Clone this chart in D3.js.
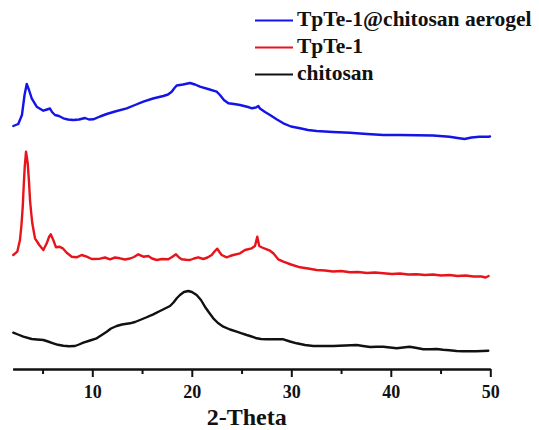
<!DOCTYPE html>
<html>
<head>
<meta charset="utf-8">
<script src="https://cdn.jsdelivr.net/npm/d3@7"></script>
<style>
  html, body { margin: 0; padding: 0; background: #fff; }
  svg { display: block; }
  text { font-family: "Liberation Serif", "Times New Roman", serif; font-weight: bold; fill: #111; }
</style>
</head>
<body>
<svg id="chart" width="539" height="430"></svg>
<script>
// XRD patterns: [2-theta (deg), intensity (a.u., curves stacked with offsets)]
const aerogelPattern = [
  [2.06,243],[2.56,245],[2.93,254],[3.19,274],[3.41,285],[3.64,279],[3.91,270.7],[4.41,262.3],
  [5.08,258.3],[5.45,259.5],[5.75,260.5],[5.95,257],[6.25,254],[6.65,253],[7.09,250.7],[7.56,249.5],
  [8.09,249],[8.66,249.5],[9.27,251],[9.67,249.5],[10.10,249.7],[10.77,252.5],[11.45,255],[12.28,257.5],
  [13.46,260.7],[14.29,264],[15.13,267.3],[16.10,270.5],[17.14,273],[17.61,274.5],[17.98,277.3],[18.26,281],
  [18.48,283.5],[19.12,284.5],[19.82,286],[20.32,284.5],[20.82,282.3],[21.63,280],[22.50,277.3],[22.83,274],
  [23.23,269],[23.67,265.7],[24.24,265],[24.85,264],[25.65,262],[26.05,260.7],[26.45,261.5],[26.68,263],
  [26.85,260.5],[27.36,257],[27.86,254],[28.56,249.5],[29.20,245.7],[29.97,242.5],[30.87,240.7],[31.68,239],
  [32.55,238],[34.19,237],[35.90,236.3],[37.61,235],[39.25,234],[40.93,234],[42.60,233.7],[44.24,233.5],
  [45.90,232.3],[46.71,231],[47.41,230],[48.11,231.5],[48.92,232.3],[49.80,232.3],[49.97,232.5]
];

const tpte1Pattern = [
  [2.06,114],[2.46,117.3],[2.73,129],[2.88,144],[3.01,162.3],[3.11,184],[3.21,202.3],[3.34,217.3],
  [3.51,205.7],[3.64,187],[3.74,169],[3.86,156],[3.97,145.7],[4.24,130.7],[4.67,124],[5.08,119],
  [5.42,125.7],[5.65,132],[5.82,134.7],[6.08,129],[6.35,121.7],[6.68,122.3],[7.03,120.7],[7.43,116.3],
  [7.93,112.3],[8.43,111.7],[8.93,114],[9.44,112.3],[9.94,110],[10.77,110.3],[11.28,111.5],[11.78,109.7],
  [12.28,111.5],[12.78,110.7],[13.28,109.5],[13.79,110.5],[14.19,112],[14.62,114.7],[15.13,112.3],[15.63,113],
  [16.00,110.5],[16.47,109],[17.01,110],[17.64,109.7],[18.01,112],[18.41,114.7],[18.72,111.5],[18.98,109.7],
  [19.42,109.2],[19.82,109],[20.22,110.5],[20.65,111.7],[21.16,110],[21.58,111.5],[22.00,114],[22.28,117.5],
  [22.56,120.3],[22.78,117],[23.00,114],[23.51,111.7],[23.84,113],[24.17,114],[24.85,115.7],[25.35,119],
  [26.02,120.7],[26.35,123],[26.58,132.3],[26.78,123],[27.06,121.5],[27.53,119.7],[27.86,118.3],[28.19,115.7],
  [28.69,109.7],[29.20,107.3],[29.97,104.5],[30.87,101.7],[31.68,100.5],[32.55,99],[33.39,98.5],[34.19,97.5],
  [35.00,98],[35.90,96.7],[36.70,97],[37.61,96],[38.41,96.5],[39.25,95.7],[40.12,95],[40.93,95.5],
  [41.73,94.5],[42.60,94.7],[43.44,94],[44.24,94.5],[45.05,93.5],[45.90,94],[46.71,93],[47.51,93.5],
  [48.32,92.5],[49.12,92.5],[49.53,91.5],[49.83,93]
];

const chitosanPattern = [
  [2.06,36.3],[2.53,34.5],[3.07,32.3],[3.91,30],[4.44,29.5],[5.08,29],[5.55,27.5],[6.08,25.7],
  [6.55,24.2],[7.09,23.3],[7.66,22.8],[8.26,23],[8.66,24.5],[9.10,26.3],[9.77,28.5],[10.44,30.7],
  [10.87,33.5],[11.45,37.3],[11.88,40.5],[12.45,43],[12.98,44.5],[13.79,45.7],[14.29,47],[14.79,49],
  [15.40,51.5],[16.13,54.7],[16.80,58],[17.41,61],[17.81,63],[18.16,66.5],[18.51,71],[18.81,74],
  [19.21,77],[19.65,78],[20.01,77],[20.49,74],[20.92,69],[21.32,62.3],[21.73,56.5],[22.16,50.7],
  [22.63,46],[23.17,42.3],[23.84,39.5],[24.51,37.3],[25.02,35.7],[25.52,34],[25.85,33],[26.52,30.7],
  [26.95,30],[27.53,29.7],[28.36,29.7],[29.20,29.7],[29.87,27.5],[30.54,25.7],[31.38,24],[32.21,23],
  [33.19,23],[34.22,23],[35.40,23.5],[36.57,24],[37.20,23],[37.91,22],[38.61,22.2],[39.25,22.3],
  [39.92,21.5],[40.59,20.7],[41.23,21.5],[41.88,22.3],[42.49,21.2],[43.27,19.7],[43.94,19.8],[44.61,20],
  [45.25,19.2],[45.90,18.7],[46.61,18],[47.24,17.7],[47.91,17.7],[48.58,17.7],[49.21,18],[49.80,18.3]
];

const seriesNames  = ["TpTe-1@chitosan aerogel", "TpTe-1", "chitosan"];
const seriesColors = ["#1414e6", "#e8141b", "#111111"];
const majorTicks = [10, 20, 30, 40, 50];
const minorTicks = [5, 15, 25, 35, 45];
const xTitle = "2-Theta";

const svg = d3.select("#chart");

const x = d3.scaleLinear().domain([2, 50]).range([12.7, 490.3]);
const y = d3.scaleLinear().domain([0, 360]).range([369, 9]);

const line = d3.line()
  .x(d => x(d[0]))
  .y(d => y(d[1]));

const patterns = [aerogelPattern, tpte1Pattern, chitosanPattern];

svg.append("g")
  .selectAll("path")
  .data(patterns)
  .join("path")
  .attr("d", line)
  .attr("fill", "none")
  .attr("stroke", (d, i) => seriesColors[i])
  .attr("stroke-width", 2.4)
  .attr("stroke-linejoin", "round")
  .attr("stroke-linecap", "round");

// bottom axis: minor ticks first, then labelled major ticks on top
const axisY = y(0);
const minorAxis = d3.axisBottom(x)
  .tickValues(minorTicks)
  .tickFormat("")
  .tickSize(5)
  .tickSizeOuter(0);
const majorAxis = d3.axisBottom(x)
  .tickValues(majorTicks)
  .tickFormat(d3.format("d"))
  .tickSize(8)
  .tickSizeOuter(0)
  .tickPadding(8);

const gMinor = svg.append("g").attr("transform", `translate(0,${axisY})`).call(minorAxis);
const gMajor = svg.append("g").attr("transform", `translate(0,${axisY})`).call(majorAxis);

[gMinor, gMajor].forEach(g => {
  g.selectAll("path.domain").attr("stroke", "#111").attr("stroke-width", 2.2);
  g.selectAll(".tick line").attr("stroke", "#111").attr("stroke-width", 2);
});
gMajor.selectAll(".tick text")
  .attr("font-size", 18)
  .attr("font-family", "\"Liberation Serif\", \"Times New Roman\", serif")
  .attr("font-weight", "bold")
  .attr("fill", "#111");

svg.append("text")
  .attr("x", 246.7)
  .attr("y", 424.5)
  .attr("text-anchor", "middle")
  .attr("font-size", 24)
  .text(xTitle);

// legend
const legend = svg.append("g");
const rows = legend.selectAll("g")
  .data(seriesNames)
  .join("g")
  .attr("transform", (d, i) => `translate(0,${26 + i * 27})`);
rows.append("line")
  .attr("x1", 255).attr("x2", 293)
  .attr("y1", -5.5).attr("y2", -5.5)
  .attr("stroke", (d, i) => seriesColors[i])
  .attr("stroke-width", 2);
rows.append("text")
  .attr("x", 297)
  .attr("y", 0)
  .attr("font-size", 21.5)
  .text(d => d);
</script>
</body>
</html>
